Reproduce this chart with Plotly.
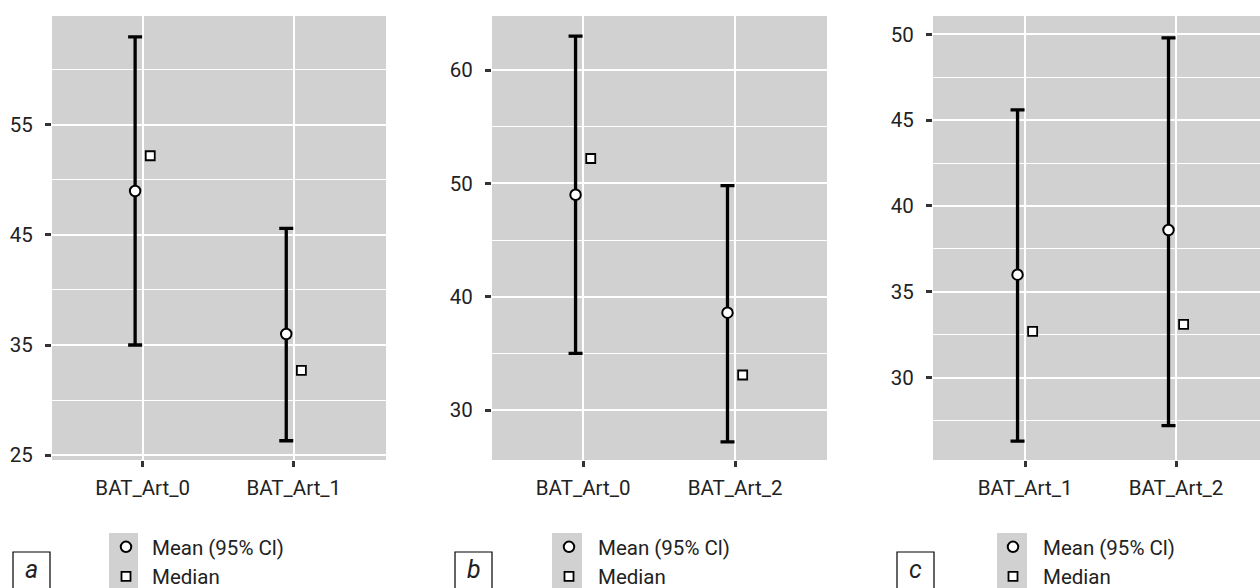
import plotly.graph_objects as go

# ---- data ----
CATS_A = ["BAT_Art_0", "BAT_Art_1"]
CATS_B = ["BAT_Art_0", "BAT_Art_2"]
CATS_C = ["BAT_Art_1", "BAT_Art_2"]

GROUP_MEAN = {"BAT_Art_0": 49.0, "BAT_Art_1": 36.0, "BAT_Art_2": 38.6}
GROUP_LO = {"BAT_Art_0": 35.0, "BAT_Art_1": 26.3, "BAT_Art_2": 27.2}
GROUP_HI = {"BAT_Art_0": 63.0, "BAT_Art_1": 45.6, "BAT_Art_2": 49.8}
GROUP_MEDIAN = {"BAT_Art_0": 52.2, "BAT_Art_1": 32.7, "BAT_Art_2": 33.1}

Y_TICKS_A = [25, 35, 45, 55]
Y_MINOR_A = [30, 40, 50, 60]
Y_TICKS_B = [30, 40, 50, 60]
Y_MINOR_B = [35, 45, 55]
Y_TICKS_C = [30, 35, 40, 45, 50]
Y_MINOR_C = [27.5, 32.5, 37.5, 42.5, 47.5]

PANEL_LABELS = ["a", "b", "c"]
LEGEND_NAMES = ["Mean (95% Cl)", "Median"]

# ---- styling ----
W, H = 1260, 588
BG = "#d1d1d1"
FONT = "Roboto"
TXT = "#222222"
FS = 20.5

def px_x(p):
    return p / W

def px_y(p):
    return 1 - p / H

panels = [
    dict(cats=CATS_A, ticks=Y_TICKS_A, minor=Y_MINOR_A, xdom=(52, 386), yrange=(24.55, 64.9), xrange=(-0.6, 1.61),
         leg_x=100, itemw=42, key=(109, 138), box=(13, 50)),
    dict(cats=CATS_B, ticks=Y_TICKS_B, minor=Y_MINOR_B, xdom=(492, 827), yrange=(25.6, 64.77), xrange=(-0.6, 1.605),
         leg_x=540, itemw=48, key=(552, 582), box=(455, 492)),
    dict(cats=CATS_C, ticks=Y_TICKS_C, minor=Y_MINOR_C, xdom=(933, 1260), yrange=(25.2, 51.07), xrange=(-0.61, 1.556),
         leg_x=983, itemw=50, key=(997, 1027), box=(897, 934)),
]

fig = go.Figure()
OFF = 0.05

for i, p in enumerate(panels):
    sfx = "" if i == 0 else str(i + 1)
    cats = p["cats"]
    xpos = list(range(len(cats)))
    means = [GROUP_MEAN[c] for c in cats]
    meds = [GROUP_MEDIAN[c] for c in cats]
    hi = [GROUP_HI[c] - GROUP_MEAN[c] for c in cats]
    lo = [GROUP_MEAN[c] - GROUP_LO[c] for c in cats]
    legname = "legend" if i == 0 else f"legend{i+1}"

    fig.add_trace(go.Scatter(
        x=[x - OFF for x in xpos], y=means, mode="markers",
        name=LEGEND_NAMES[0], legend=legname, legendgroup=f"m{i}",
        xaxis="x" + sfx, yaxis="y" + sfx,
        marker=dict(symbol="circle", size=10.5, color="white", line=dict(color="black", width=2)),
        error_y=dict(type="data", symmetric=False, array=hi, arrayminus=lo,
                     color="black", thickness=3.3, width=7),
    ))
    fig.add_trace(go.Scatter(
        x=[x + OFF for x in xpos], y=meds, mode="markers",
        name=LEGEND_NAMES[1], legend=legname, legendgroup=f"d{i}",
        xaxis="x" + sfx, yaxis="y" + sfx,
        marker=dict(symbol="square", size=9, color="white", line=dict(color="black", width=1.8)),
    ))

    x0, x1 = p["xdom"]
    fig.layout["xaxis" + sfx] = dict(
        domain=[px_x(x0), px_x(x1)], anchor="y" + sfx, range=list(p["xrange"]),
        tickmode="array", tickvals=xpos, ticktext=cats,
        showgrid=True, gridcolor="white", gridwidth=1.6, zeroline=False, showline=False,
        ticks="outside", ticklen=6, tickwidth=2.5, tickcolor="#333333",
        ticklabelstandoff=3, automargin=False,
        tickfont=dict(family=FONT, size=FS, color=TXT), fixedrange=True,
    )
    fig.layout["yaxis" + sfx] = dict(
        domain=[px_y(460), px_y(16)], anchor="x" + sfx, range=list(p["yrange"]),
        tickmode="array", tickvals=p["ticks"],
        showgrid=True, gridcolor="white", gridwidth=2, zeroline=False, showline=False,
        minor=dict(tickmode="array", tickvals=p["minor"], showgrid=True, gridcolor="white", gridwidth=1.3, ticks=""),
        ticks="outside", ticklen=6, tickwidth=2.5, tickcolor="#333333",
        ticklabelstandoff=8, automargin=False,
        tickfont=dict(family=FONT, size=FS, color=TXT), fixedrange=True,
    )

    fig.layout[legname] = dict(
        x=px_x(p["leg_x"]), xanchor="left", y=px_y(527), yanchor="top",
        bgcolor="rgba(0,0,0,0)", borderwidth=0, tracegroupgap=0, itemwidth=p["itemw"],
        font=dict(family=FONT, size=FS, color=TXT), itemclick=False, itemdoubleclick=False,
    )

    # grey legend key background
    k0, k1 = p["key"]
    fig.add_shape(type="rect", xref="paper", yref="paper", x0=px_x(k0), x1=px_x(k1),
                  y0=-0.1, y1=px_y(533), fillcolor=BG, line=dict(width=0), layer="below")
    # plot background
    fig.add_shape(type="rect", xref="paper", yref="paper", x0=px_x(x0), x1=px_x(x1),
                  y0=px_y(460), y1=px_y(16), fillcolor=BG, line=dict(width=0), layer="below")

    # panel label box
    b0, b1 = p["box"]
    fig.add_shape(type="rect", xref="paper", yref="paper", x0=px_x(b0), x1=px_x(b1),
                  y0=-0.1, y1=px_y(552), fillcolor="white", line=dict(color="black", width=1.2))
    fig.add_annotation(xref="paper", yref="paper", x=px_x((b0 + b1) / 2), y=px_y(569),
                       text=PANEL_LABELS[i], showarrow=False, xanchor="center", yanchor="middle",
                       font=dict(family=FONT, size=25, color=TXT, style="italic"))

fig.update_layout(
    width=W, height=H, margin=dict(l=0, r=0, t=0, b=0, autoexpand=False),
    paper_bgcolor="white", plot_bgcolor="rgba(0,0,0,0)", showlegend=True,
)

fig.write_html(
    "out.html",
    config={"responsive": False, "displayModeBar": False},
    post_script="document.body.style.margin='0px';document.body.style.padding='0px';document.body.style.overflow='hidden';",
)
